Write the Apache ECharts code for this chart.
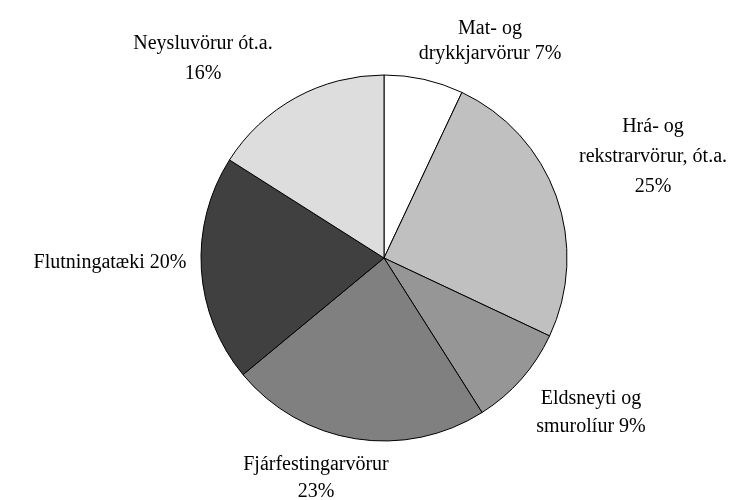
<!DOCTYPE html>
<html>
<head>
<meta charset="utf-8">
<script src="https://cdn.jsdelivr.net/npm/echarts@6/dist/echarts.min.js"></script>
<style>
  html, body { margin: 0; padding: 0; background: #fff; }
  #chart { width: 748px; height: 500px; }
</style>
</head>
<body>
<div id="chart"></div>
<script>
// categories, clockwise from the top
const categories = [
  'Mat- og drykkjarvörur',
  'Hrá- og rekstrarvörur, ót.a.',
  'Eldsneyti og smurolíur',
  'Fjárfestingarvörur',
  'Flutningatæki',
  'Neysluvörur ót.a.'
]
const shares = [7, 25, 9, 23, 20, 16]
// how each label is broken into lines ({p} = percentage)
const labelTexts = [
  'Mat- og\ndrykkjarvörur {p}%',
  'Hrá- og\nrekstrarvörur, ót.a.\n{p}%',
  'Eldsneyti og\nsmurolíur {p}%',
  'Fjárfestingarvörur\n{p}%',
  'Flutningatæki {p}%',
  'Neysluvörur ót.a.\n{p}%'
]
const sliceColors = ['#ffffff', '#c0c0c0', '#969696', '#808080', '#404040', '#dddddd']
// label centres (px) and line spacing
const labelPos = [[490, 41], [653, 157], [591, 413], [316, 478], [110, 263], [203, 59]]
const labelLineHeights = [25, 30, 28, 27, 29, 30]

const chart = echarts.init(document.getElementById('chart'))
const option = {
  backgroundColor: '#ffffff',
  animation: false,
  series: [
    {
      type: 'pie',
      center: [384, 258],
      radius: [0, 183],
      startAngle: 90,
      clockwise: true,
      silent: true,
      avoidLabelOverlap: false,
      data: categories.map((name, i) => ({
        name: name,
        value: shares[i],
        itemStyle: { color: sliceColors[i] },
        label: { lineHeight: labelLineHeights[i] }
      })),
      itemStyle: { borderColor: '#000', borderWidth: 1 },
      label: {
        show: true,
        position: 'outside',
        fontFamily: 'Liberation Serif',
        fontSize: 20,
        color: '#000',
        align: 'center',
        formatter: p => labelTexts[p.dataIndex].replace('{p}', Math.round(p.percent))
      },
      labelLine: { show: false },
      labelLayout: p => ({
        x: labelPos[p.dataIndex][0],
        y: labelPos[p.dataIndex][1],
        align: 'center',
        verticalAlign: 'middle'
      })
    }
  ]
}
chart.setOption(option)
</script>
</body>
</html>
